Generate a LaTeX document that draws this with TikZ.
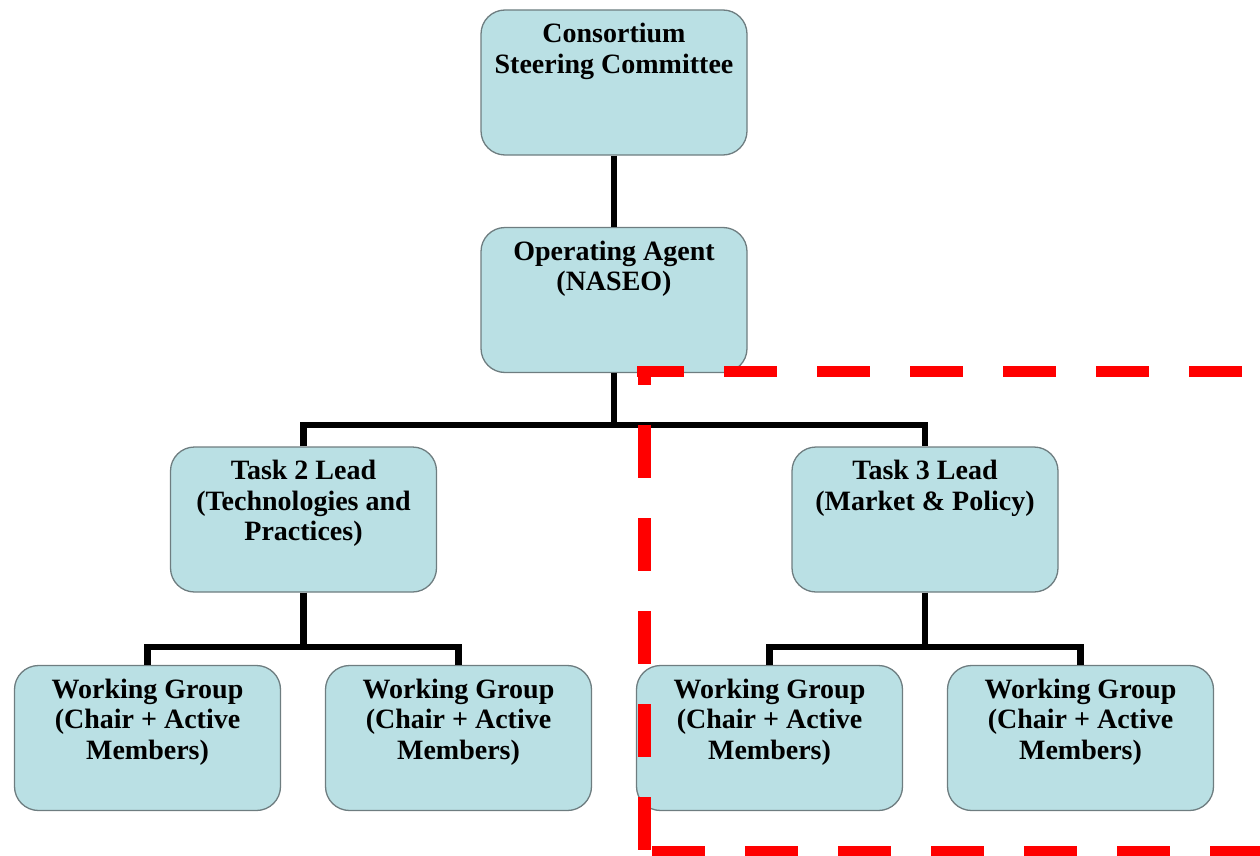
\documentclass[tikz,border=0pt]{standalone}
\usepackage{fontspec}
\setmainfont{Liberation Serif}
\definecolor{boxfill}{RGB}{186,224,228}
\definecolor{boxline}{RGB}{110,125,128}
\definecolor{dashred}{RGB}{255,0,0}
\newcommand{\fl}{\rule{0pt}{19pt}}
\begin{document}
\begin{tikzpicture}[x=1pt,y=-1pt,
  box/.style={draw=boxline, line width=1.3pt, fill=boxfill, rounded corners=24pt,
    minimum width=266pt, minimum height=145pt, inner sep=0pt},
  txt/.style={font=\fontsize{28}{30.5}\selectfont\bfseries, align=center,
    inner sep=0pt, anchor=north},
  conn/.style={line width=6.5pt, draw=black},
  reddash/.style={draw=dashred, dash pattern=on 53pt off 40pt}]
\useasboundingbox (0,0) rectangle (1260,856);

% boxes
\node[box] (cs) at (614,82.5) {};
\node[box] (oa) at (614,300) {};
\node[box] (t2) at (303.5,519.5) {};
\node[box] (t3) at (925,519.5) {};
\node[box] (w1) at (147.5,738) {};
\node[box] (w2) at (458.5,738) {};
\node[box] (w3) at (769.5,738) {};
\node[box] (w4) at (1080.5,738) {};

% texts
\node[txt] (csT) at ([yshift=-14pt]cs.north) {\fl Consortium\\Steering Committee};
\node[txt] (oaT) at ([yshift=-14pt]oa.north) {\fl Operating Agent\\(NASEO)};
\node[txt] (t2T) at ([yshift=-14pt]t2.north) {\fl Task 2 Lead\\(Technologies and\\Practices)};
\node[txt] (t3T) at ([yshift=-14pt]t3.north) {\fl Task 3 Lead\\(Market \& Policy)};
\node[txt] (w1T) at ([yshift=-14pt]w1.north) {\fl Working Group\\(Chair + Active\\Members)};
\node[txt] (w2T) at ([yshift=-14pt]w2.north) {\fl Working Group\\(Chair + Active\\Members)};
\node[txt] (w3T) at ([yshift=-14pt]w3.north) {\fl Working Group\\(Chair + Active\\Members)};
\node[txt] (w4T) at ([yshift=-14pt]w4.north) {\fl Working Group\\(Chair + Active\\Members)};

% connectors
\coordinate (bus1) at (614,425);
\coordinate (bus2) at (303.5,647);
\coordinate (bus3) at (925,647);
\draw[conn] (cs.south) -- (oa.north);
\draw[conn] (oa.south) -- (bus1);
\draw[conn] (t2.north) -- (t2.north |- bus1) -- (t3.north |- bus1) -- (t3.north);
\draw[conn] (t2.south) -- (bus2);
\draw[conn] (w1.north) -- (w1.north |- bus2) -- (w2.north |- bus2) -- (w2.north);
\draw[conn] (t3.south) -- (bus3);
\draw[conn] (w3.north) -- (w3.north |- bus3) -- (w4.north |- bus3) -- (w4.north);

% red dashed frame
\coordinate (rTL) at (637,371);
\coordinate (rTR) at (1260,371);
\coordinate (rLT) at (644,366);
\coordinate (rLB) at (644,852);
\coordinate (rBL) at (652,851);
\coordinate (rBR) at (1260,851);
\draw[reddash, line width=11pt, dash phase=6pt] (rTL) -- (rTR);
\draw[reddash, line width=13pt, dash phase=34pt] (rLT) -- (rLB);
\draw[reddash, line width=11pt] (rBL) -- (rBR);
\end{tikzpicture}
\end{document}
